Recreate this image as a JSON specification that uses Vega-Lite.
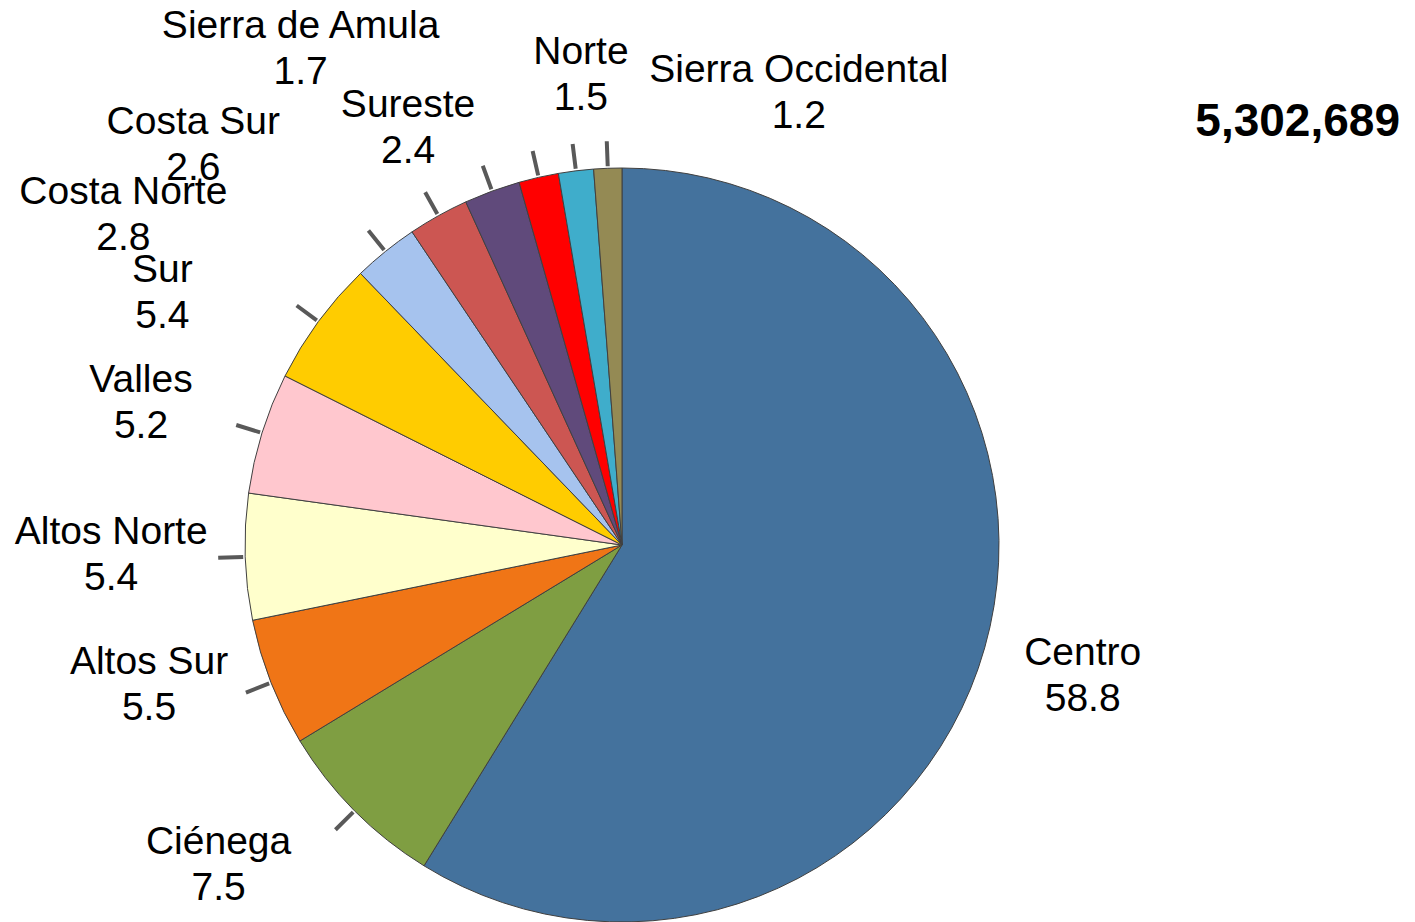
{
  "$schema": "https://vega.github.io/schema/vega-lite/v6.json",
  "width": 754,
  "height": 754,
  "autosize": "none",
  "padding": {"left": 245, "top": 168, "right": 416, "bottom": 0},
  "background": "white",
  "config": {"view": {"stroke": null}},
  "data": {"values": [
    {"name": "Centro", "value": 58.8, "rank": 1},
    {"name": "Ciénega", "value": 7.5, "rank": 2},
    {"name": "Altos Sur", "value": 5.5, "rank": 3},
    {"name": "Altos Norte", "value": 5.4, "rank": 4},
    {"name": "Valles", "value": 5.2, "rank": 5},
    {"name": "Sur", "value": 5.4, "rank": 6},
    {"name": "Costa Norte", "value": 2.8, "rank": 7},
    {"name": "Costa Sur", "value": 2.6, "rank": 8},
    {"name": "Sureste", "value": 2.4, "rank": 9},
    {"name": "Sierra de Amula", "value": 1.7, "rank": 10},
    {"name": "Norte", "value": 1.5, "rank": 11},
    {"name": "Sierra Occidental", "value": 1.2, "rank": 12}
  ]},
  "transform": [{"calculate": "datum.name + '\\n' + format(datum.value, '.1f')", "as": "label"}],
  "layer": [
    {
      "mark": {"type": "arc", "stroke": "#404040", "strokeWidth": 1},
      "encoding": {
        "theta": {"field": "value", "type": "quantitative", "stack": true},
        "order": {"field": "rank", "type": "quantitative"},
        "color": {"field": "name", "type": "nominal", "legend": null,
          "scale": {
            "domain": ["Centro", "Ciénega", "Altos Sur", "Altos Norte", "Valles", "Sur", "Costa Norte", "Costa Sur", "Sureste", "Sierra de Amula", "Norte", "Sierra Occidental"],
            "range": ["#44729D", "#7F9E42", "#F07516", "#FFFFCC", "#FFC7CE", "#FFCC00", "#A6C3EE", "#CC5652", "#604A7B", "#FF0000", "#3FADCB", "#948A54"]
          }}
      }
    },
    {
      "mark": {"type": "arc", "radius": 404, "radius2": 379, "padAngle": 3.1416, "fillOpacity": 0, "stroke": "#595959", "strokeWidth": 4},
      "encoding": {
        "theta": {"field": "value", "type": "quantitative", "stack": true},
        "order": {"field": "rank", "type": "quantitative"},
        "strokeOpacity": {"condition": {"test": "datum.name === 'Centro'", "value": 0}, "value": 1}
      }
    },
    {"mark": {"type": "text", "radius": 377, "dx": 98, "dy": 5, "font": "Liberation Sans", "fontSize": 39, "lineHeight": 46, "lineBreak": "\n", "align": "center", "baseline": "middle", "color": "black"},
     "encoding": {"theta": {"field": "value", "type": "quantitative", "stack": true}, "order": {"field": "rank", "type": "quantitative"},
       "text": {"condition": {"test": "datum.name === 'Centro'", "field": "label"}, "value": ""}}},
    {"mark": {"type": "text", "radius": 377, "dx": -136, "dy": 31, "font": "Liberation Sans", "fontSize": 39, "lineHeight": 46, "lineBreak": "\n", "align": "center", "baseline": "middle", "color": "black"},
     "encoding": {"theta": {"field": "value", "type": "quantitative", "stack": true}, "order": {"field": "rank", "type": "quantitative"},
       "text": {"condition": {"test": "datum.name === 'Ciénega'", "field": "label"}, "value": ""}}},
    {"mark": {"type": "text", "radius": 377, "dx": -122, "dy": -21, "font": "Liberation Sans", "fontSize": 39, "lineHeight": 46, "lineBreak": "\n", "align": "center", "baseline": "middle", "color": "black"},
     "encoding": {"theta": {"field": "value", "type": "quantitative", "stack": true}, "order": {"field": "rank", "type": "quantitative"},
       "text": {"condition": {"test": "datum.name === 'Altos Sur'", "field": "label"}, "value": ""}}},
    {"mark": {"type": "text", "radius": 377, "dx": -134, "dy": -25, "font": "Liberation Sans", "fontSize": 39, "lineHeight": 46, "lineBreak": "\n", "align": "center", "baseline": "middle", "color": "black"},
     "encoding": {"theta": {"field": "value", "type": "quantitative", "stack": true}, "order": {"field": "rank", "type": "quantitative"},
       "text": {"condition": {"test": "datum.name === 'Altos Norte'", "field": "label"}, "value": ""}}},
    {"mark": {"type": "text", "radius": 377, "dx": -121, "dy": -53, "font": "Liberation Sans", "fontSize": 39, "lineHeight": 46, "lineBreak": "\n", "align": "center", "baseline": "middle", "color": "black"},
     "encoding": {"theta": {"field": "value", "type": "quantitative", "stack": true}, "order": {"field": "rank", "type": "quantitative"},
       "text": {"condition": {"test": "datum.name === 'Valles'", "field": "label"}, "value": ""}}},
    {"mark": {"type": "text", "radius": 377, "dx": -156, "dy": -51, "font": "Liberation Sans", "fontSize": 39, "lineHeight": 46, "lineBreak": "\n", "align": "center", "baseline": "middle", "color": "black"},
     "encoding": {"theta": {"field": "value", "type": "quantitative", "stack": true}, "order": {"field": "rank", "type": "quantitative"},
       "text": {"condition": {"test": "datum.name === 'Sur'", "field": "label"}, "value": ""}}},
    {"mark": {"type": "text", "radius": 377, "dx": -262, "dy": -60, "font": "Liberation Sans", "fontSize": 39, "lineHeight": 46, "lineBreak": "\n", "align": "center", "baseline": "middle", "color": "black"},
     "encoding": {"theta": {"field": "value", "type": "quantitative", "stack": true}, "order": {"field": "rank", "type": "quantitative"},
       "text": {"condition": {"test": "datum.name === 'Costa Norte'", "field": "label"}, "value": ""}}},
    {"mark": {"type": "text", "radius": 377, "dx": -245, "dy": -94, "font": "Liberation Sans", "fontSize": 39, "lineHeight": 46, "lineBreak": "\n", "align": "center", "baseline": "middle", "color": "black"},
     "encoding": {"theta": {"field": "value", "type": "quantitative", "stack": true}, "order": {"field": "rank", "type": "quantitative"},
       "text": {"condition": {"test": "datum.name === 'Costa Sur'", "field": "label"}, "value": ""}}},
    {"mark": {"type": "text", "radius": 377, "dx": -84, "dy": -86, "font": "Liberation Sans", "fontSize": 39, "lineHeight": 46, "lineBreak": "\n", "align": "center", "baseline": "middle", "color": "black"},
     "encoding": {"theta": {"field": "value", "type": "quantitative", "stack": true}, "order": {"field": "rank", "type": "quantitative"},
       "text": {"condition": {"test": "datum.name === 'Sureste'", "field": "label"}, "value": ""}}},
    {"mark": {"type": "text", "radius": 377, "dx": -238, "dy": -151, "font": "Liberation Sans", "fontSize": 39, "lineHeight": 46, "lineBreak": "\n", "align": "center", "baseline": "middle", "color": "black"},
     "encoding": {"theta": {"field": "value", "type": "quantitative", "stack": true}, "order": {"field": "rank", "type": "quantitative"},
       "text": {"condition": {"test": "datum.name === 'Sierra de Amula'", "field": "label"}, "value": ""}}},
    {"mark": {"type": "text", "radius": 377, "dx": 5, "dy": -119, "font": "Liberation Sans", "fontSize": 39, "lineHeight": 46, "lineBreak": "\n", "align": "center", "baseline": "middle", "color": "black"},
     "encoding": {"theta": {"field": "value", "type": "quantitative", "stack": true}, "order": {"field": "rank", "type": "quantitative"},
       "text": {"condition": {"test": "datum.name === 'Norte'", "field": "label"}, "value": ""}}},
    {"mark": {"type": "text", "radius": 377, "dx": 191, "dy": -98, "font": "Liberation Sans", "fontSize": 39, "lineHeight": 46, "lineBreak": "\n", "align": "center", "baseline": "middle", "color": "black"},
     "encoding": {"theta": {"field": "value", "type": "quantitative", "stack": true}, "order": {"field": "rank", "type": "quantitative"},
       "text": {"condition": {"test": "datum.name === 'Sierra Occidental'", "field": "label"}, "value": ""}}},
    {
      "data": {"values": [{"total": 5302689}]},
      "mark": {"type": "text", "dx": 778, "dy": -423, "font": "Liberation Sans", "fontSize": 46, "fontWeight": "bold", "align": "right", "baseline": "middle", "color": "black"},
      "encoding": {"text": {"field": "total", "type": "quantitative", "format": ",d"}}
    }
  ]
}
